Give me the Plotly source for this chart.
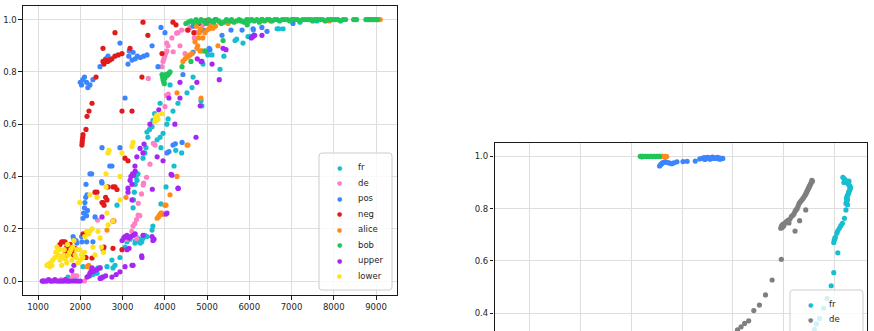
import plotly.graph_objects as go

W, H = 874, 331

# ---------------- left panel data ----------------
fr_x = [1710, 1850, 2065, 2230, 2300, 2350, 2400, 2420, 2467, 2515, 2633, 2750, 2775, 2822, 2870, 2940,
        3060, 3107, 3180, 3250, 3260, 3280, 3295, 3300, 3310, 3320, 3343, 3350, 3367, 3380, 3400, 3420,
        3440, 3455, 3460, 3485, 3490, 3530, 3530, 3555, 3580, 3580, 3600, 3640, 3700, 3700, 3720, 3720,
        3760, 3820, 3890, 3890, 3910, 3910, 3960, 4030, 4050, 4080, 4125, 4195, 4220, 4260, 4313, 4400,
        4527, 4645, 4670, 4858, 4880, 4905, 5000, 5020, 5118, 5308, 5400, 5663, 5700, 5852, 5970, 6020,
        6100, 6660, 6700, 6800, 7200, 7600]
fr_y = [0.015, 0.010, 0.055, 0.020, 0.025, 0.030, 0.030, 0.050, 0.050, 0.015, 0.055, 0.080, 0.050, 0.060, 0.290, 0.090,
        0.130, 0.150, 0.160, 0.280, 0.310, 0.340, 0.145, 0.370, 0.155, 0.400, 0.385, 0.165, 0.410, 0.160, 0.150, 0.145,
        0.150, 0.150, 0.160, 0.470, 0.165, 0.490, 0.175, 0.510, 0.170, 0.570, 0.550, 0.580, 0.195, 0.590, 0.210, 0.615,
        0.640, 0.540, 0.680, 0.550, 0.295, 0.510, 0.565, 0.360, 0.600, 0.620, 0.750, 0.650, 0.440, 0.500, 0.680, 0.490,
        0.720, 0.740, 0.780, 0.690, 0.670, 0.830, 0.875, 0.865, 0.865, 0.810, 0.860, 0.920, 0.925, 0.910, 0.935, 0.935,
        0.960, 0.965, 0.965, 0.965, 0.990, 0.995]

de_x = [1120, 1200, 1300, 1400, 1500, 1550, 1600, 1650, 1700, 1760, 1800, 1836, 1920, 2100, 2410, 2500,
        2800, 3100, 3220, 3250, 3290, 3330, 3335, 3370, 3375, 3390, 3410, 3450, 3490, 3500, 3570, 3611,
        3650, 3730, 3770, 4006, 4046, 4085, 3935, 3960, 3980, 4000, 4020, 4046, 4050, 4077, 4170, 4200,
        4280, 4313, 4360, 4400, 4480, 4527, 4600, 4700, 4760, 4834, 4900, 5000, 5100]
de_y = [0.000, 0.000, 0.000, 0.000, 0.000, 0.005, 0.000, 0.000, 0.000, 0.000, 0.010, 0.023, 0.020, 0.000, 0.233, 0.010,
        0.230, 0.160, 0.190, 0.210, 0.220, 0.235, 0.163, 0.252, 0.297, 0.250, 0.250, 0.333, 0.367, 0.375, 0.397, 0.775,
        0.447, 0.527, 0.520, 0.667, 0.710, 0.715, 0.820, 0.840, 0.850, 0.860, 0.870, 0.910, 0.880, 0.900, 0.930, 0.877,
        0.948, 0.950, 0.900, 0.960, 0.870, 0.960, 0.970, 0.930, 0.950, 0.960, 0.980, 0.985, 0.990]

pos_x = [1830, 1850, 1900, 1920, 2034, 2040, 2065, 2080, 2100, 2110, 2130, 2136, 2150, 2152, 2160, 2170,
         2230, 2270, 2300, 2350, 2507, 2515, 2515, 2540, 2700, 2750, 2940, 3060, 2000, 2030, 2060, 2100,
         2150, 2180, 2230, 2300, 2467, 2600, 2657, 2940, 3130, 3150, 3160, 3225, 3250, 3300, 3350, 3420,
         3500, 3580, 3700, 3840, 3910, 4005, 4053, 4100, 4195, 4250, 4410, 4430, 4670, 4670, 4800, 4905,
         5050, 5070, 5355, 5500, 5568, 5830, 6090, 6300, 6420, 7035]
pos_y = [0.170, 0.160, 0.155, 0.145, 0.170, 0.150, 0.240, 0.260, 0.280, 0.300, 0.320, 0.370, 0.250, 0.150, 0.330, 0.270,
         0.410, 0.410, 0.150, 0.245, 0.380, 0.375, 0.510, 0.120, 0.440, 0.440, 0.510, 0.700, 0.760, 0.750, 0.770, 0.780,
         0.760, 0.740, 0.750, 0.770, 0.820, 0.850, 0.860, 0.910, 0.830, 0.860, 0.880, 0.845, 0.875, 0.850, 0.860, 0.855,
         0.860, 0.865, 0.900, 0.820, 0.970, 0.950, 0.490, 0.495, 0.520, 0.525, 0.530, 0.790, 0.875, 0.975, 0.990, 0.960,
         0.890, 0.885, 0.940, 0.990, 0.960, 0.960, 0.965, 0.970, 0.955, 0.985]

neg_x = [1520, 1560, 1600, 1640, 1650, 1680, 1700, 1720, 1760, 1800, 1840, 1875, 2065, 2136, 2278, 2349,
         2396, 2515, 2538, 2562, 2562, 2600, 2633, 2657, 2775, 2775, 2775, 2822, 2870, 2988, 3060, 3130,
         2040, 2045, 2050, 2060, 2065, 2136, 2160, 2207, 2278, 2373, 2538, 2538, 2560, 2600, 2650, 2700,
         2750, 2820, 2900, 2988, 2822, 2988, 3178, 3225, 3460, 3485, 3600, 3935, 4195, 4266, 4550, 4690,
         4800, 4976, 5000, 5200, 5600, 6300, 7040]
neg_y = [0.140, 0.150, 0.150, 0.150, 0.110, 0.130, 0.100, 0.120, 0.140, 0.110, 0.100, 0.125, 0.180, 0.090, 0.088, 0.340,
         0.340, 0.300, 0.300, 0.290, 0.130, 0.320, 0.310, 0.360, 0.360, 0.230, 0.125, 0.360, 0.350, 0.120, 0.470, 0.460,
         0.520, 0.530, 0.540, 0.550, 0.560, 0.580, 0.630, 0.650, 0.680, 0.780, 0.890, 0.840, 0.830, 0.845, 0.840, 0.845,
         0.850, 0.860, 0.865, 0.870, 0.950, 0.650, 0.890, 0.650, 0.780, 0.990, 0.940, 0.870, 0.990, 0.980, 0.960, 0.950,
         0.985, 0.995, 0.995, 1.000, 0.995, 1.000, 1.000]

alice_x = [2160, 2200, 2633, 3083, 3820, 3850, 3870, 3890, 3910, 3930, 3960, 4005, 4030, 4125, 4290, 4527,
           4550, 4290, 4858, 4430, 4480, 4520, 4560, 4600, 4650, 4716, 4760, 4834, 4880, 5142, 5260, 4780,
           4800, 4820, 4850, 4900, 4950, 5000, 5050, 4750, 5080, 5200, 5300, 5500, 5800, 6000, 6500, 7000,
           7500, 7900, 8500, 8850, 9050, 9100]
alice_y = [0.055, 0.060, 0.195, 0.320, 0.240, 0.245, 0.250, 0.255, 0.260, 0.260, 0.255, 0.290, 0.290, 0.330, 0.400, 0.520,
           0.520, 0.720, 0.700, 0.840, 0.850, 0.855, 0.860, 0.865, 0.870, 0.915, 0.890, 0.880, 0.880, 0.967, 0.900, 0.900,
           0.930, 0.950, 0.965, 0.930, 0.950, 0.960, 0.965, 0.975, 0.975, 0.975, 0.990, 0.985, 0.995, 1.000, 0.995, 1.000,
           1.000, 0.995, 1.000, 1.000, 1.000, 1.000]

bob_x = [3935, 3950, 3960, 3980, 3990, 4000, 4020, 4050, 4080, 4100, 4125, 4408, 4620, 4950, 5380, 5950,
         4500, 4560, 4620, 4680, 4740, 4800, 4860, 4920, 4980, 5040, 5100, 5160, 5220, 5280, 5340, 5400,
         5460, 5520, 5580, 5640, 5700, 5760, 5820, 5880, 5940, 6000, 6060, 6120, 6180, 6240, 6300, 6360,
         6420, 6480, 6540, 6600, 6660, 6720, 6780, 6840, 6900, 6960, 7020, 7080, 7140, 7200, 7260, 7320,
         7380, 7440, 7500, 7560, 7620, 7680, 7740, 7800, 7860, 7920, 7980, 8040, 8100, 8160, 8220, 8280,
         8470, 8540, 8760, 8800, 8840, 8880, 8920, 8960, 9000, 9040]
bob_y = [0.790, 0.780, 0.770, 0.760, 0.755, 0.775, 0.790, 0.785, 0.790, 0.795, 0.800, 0.820, 0.840, 0.880, 0.920, 0.980,
         0.985, 0.990, 0.995, 0.990, 1.000, 0.990, 1.000, 0.995, 0.985, 1.000, 0.995, 0.990, 1.000, 0.995, 0.985, 0.990,
         1.000, 0.995, 1.000, 0.990, 0.995, 1.000, 0.995, 0.990, 1.000, 0.995, 1.000, 0.995, 1.000, 0.990, 1.000, 0.995,
         1.000, 1.000, 0.995, 1.000, 1.000, 0.995, 1.000, 1.000, 1.000, 0.995, 1.000, 1.000, 1.000, 0.995, 1.000, 1.000,
         1.000, 1.000, 0.995, 1.000, 1.000, 1.000, 1.000, 0.995, 1.000, 1.000, 1.000, 1.000, 1.000, 0.995, 1.000, 1.000,
         1.000, 1.000, 1.000, 1.000, 1.000, 1.000, 1.000, 1.000, 1.000, 1.000]

upper_x = [1100, 1120, 1150, 1200, 1250, 1300, 1350, 1400, 1450, 1500, 1550, 1600, 1650, 1700, 1750, 1800,
           1830, 1850, 1900, 1950, 2000, 2160, 2200, 2230, 2260, 2280, 2300, 2350, 2400, 2470, 2470, 2540,
           2600, 2750, 2850, 2940, 3060, 3225, 3250, 3454, 3460, 3107, 2990, 3030, 3060, 3107, 3150, 3200,
           3250, 3300, 3155, 2515, 3180, 3200, 3225, 3240, 3260, 3300, 3295, 3130, 3130, 3225, 3340, 3485,
           3485, 3700, 3720, 3745, 3820, 3960, 4030, 4053, 4150, 4170, 4313, 4320, 3705, 3415, 3510, 3650,
           3860, 4100, 4240, 4360, 4360, 4740, 4760, 4770, 4840, 4860, 4880, 5120, 5290, 5380, 5450, 6050,
           6070, 6090, 6110, 6130, 6300]
upper_y = [0.000, 0.000, 0.000, 0.000, 0.005, 0.000, 0.000, 0.005, 0.000, 0.000, 0.000, 0.000, 0.005, 0.000, 0.000, 0.040,
           0.000, 0.060, 0.000, 0.000, 0.000, 0.015, 0.020, 0.030, 0.040, 0.050, 0.035, 0.040, 0.045, 0.050, 0.010, 0.015,
           0.020, 0.015, 0.025, 0.035, 0.055, 0.060, 0.060, 0.096, 0.090, 0.120, 0.155, 0.165, 0.170, 0.175, 0.165, 0.170,
           0.175, 0.180, 0.125, 0.245, 0.385, 0.400, 0.370, 0.410, 0.405, 0.420, 0.440, 0.340, 0.355, 0.310, 0.475, 0.490,
           0.175, 0.170, 0.155, 0.160, 0.475, 0.460, 0.256, 0.260, 0.408, 0.405, 0.355, 0.354, 0.351, 0.507, 0.524, 0.600,
           0.655, 0.700, 0.600, 0.700, 0.760, 0.550, 0.760, 0.850, 0.670, 0.840, 0.840, 0.830, 0.770, 0.890, 0.885, 0.930,
           0.935, 0.935, 0.940, 0.940, 0.940]

lower_x = [1210, 1250, 1280, 1300, 1330, 1350, 1400, 1420, 1450, 1480, 1500, 1520, 1550, 1560, 1600, 1620,
           1650, 1680, 1700, 1720, 1750, 1780, 1800, 1820, 1850, 1880, 1900, 1920, 1950, 1990, 2000, 2030,
           2060, 2100, 2110, 2150, 2200, 2230, 2280, 2300, 2350, 2420, 2470, 2500, 2550, 2660, 2633, 2775,
           1990, 2230, 2396, 2610, 2610, 2657, 2680, 2940, 2940, 2988, 3225, 3250, 3770, 3780, 3790, 3800,
           3810, 3820, 3840, 3935]
lower_y = [0.060, 0.065, 0.055, 0.070, 0.060, 0.080, 0.090, 0.110, 0.130, 0.100, 0.120, 0.080, 0.090, 0.060, 0.100, 0.120,
           0.085, 0.070, 0.140, 0.100, 0.110, 0.120, 0.080, 0.130, 0.155, 0.100, 0.090, 0.120, 0.070, 0.120, 0.080, 0.100,
           0.090, 0.110, 0.170, 0.190, 0.180, 0.190, 0.200, 0.130, 0.100, 0.190, 0.165, 0.130, 0.110, 0.215, 0.260, 0.230,
           0.300, 0.330, 0.320, 0.360, 0.410, 0.490, 0.500, 0.310, 0.400, 0.490, 0.515, 0.530, 0.610, 0.620, 0.625, 0.630,
           0.615, 0.635, 0.620, 0.640]

left_names = ["fr", "de", "pos", "neg", "alice", "bob", "upper", "lower"]
left_colors = ["#17becf", "#ff7fc4", "#3d85ff", "#e01b1b", "#ff8c1a", "#1fc55a", "#a726f5", "#ffe21a"]
left_data = [(fr_x, fr_y), (de_x, de_y), (pos_x, pos_y), (neg_x, neg_y),
             (alice_x, alice_y), (bob_x, bob_y), (upper_x, upper_y), (lower_x, lower_y)]

# ---------------- right panel data ----------------
rfr_x = [6.16, 6.18, 6.20, 6.22, 6.24, 6.26, 6.28, 6.30, 6.31, 6.30, 6.29, 6.28, 6.27, 6.26, 6.25, 6.24,
         6.23, 6.25, 6.24, 6.23, 6.22, 6.20, 6.18, 6.28, 6.25, 6.22, 6.19, 6.15, 6.12, 6.09, 6.06, 6.04,
         6.01, 5.99, 5.98, 6.00, 6.06, 5.98, 5.93, 5.85, 5.78, 5.70, 5.64, 5.60]
rfr_y = [0.920, 0.915, 0.910, 0.905, 0.900, 0.895, 0.890, 0.885, 0.880, 0.875, 0.870, 0.865, 0.860, 0.855, 0.850, 0.845,
         0.840, 0.835, 0.830, 0.825, 0.820, 0.910, 0.900, 0.905, 0.815, 0.795, 0.763, 0.744, 0.735, 0.725, 0.715, 0.706,
         0.690, 0.680, 0.670, 0.685, 0.631, 0.555, 0.505, 0.457, 0.419, 0.380, 0.359, 0.338]

rde_x = [5.56, 5.55, 5.54, 5.53, 5.52, 5.51, 5.50, 5.49, 5.48, 5.47, 5.46, 5.45, 5.44, 5.43, 5.42, 5.40,
         5.38, 5.36, 5.34, 5.32, 5.30, 5.28, 5.26, 5.24, 5.22, 5.20, 5.18, 5.15, 5.12, 5.08, 5.05, 5.02,
         4.98, 4.96, 4.95, 4.94, 4.97, 5.00, 5.10, 5.43, 5.31, 5.22, 4.95, 4.77, 4.64, 4.52, 4.41, 4.31,
         4.23, 4.16, 4.09]
rde_y = [0.905, 0.908, 0.900, 0.896, 0.892, 0.888, 0.884, 0.880, 0.876, 0.872, 0.868, 0.864, 0.860, 0.856, 0.852, 0.846,
         0.840, 0.835, 0.830, 0.825, 0.820, 0.810, 0.800, 0.795, 0.790, 0.780, 0.775, 0.770, 0.760, 0.755, 0.750, 0.745,
         0.740, 0.735, 0.730, 0.725, 0.728, 0.735, 0.745, 0.795, 0.754, 0.714, 0.606, 0.527, 0.470, 0.431, 0.410, 0.371,
         0.361, 0.348, 0.336]

rpos_x = [2.56, 2.58, 2.60, 2.62, 2.64, 2.66, 2.68, 2.72, 2.76, 2.80, 2.84, 2.90, 3.02, 3.10, 3.26, 3.35,
          3.41, 3.44, 3.47, 3.50, 3.53, 3.56, 3.59, 3.62, 3.65, 3.68, 3.71, 3.74, 3.77, 3.80, 3.45, 3.55,
          3.60, 3.70, 3.75]
rpos_y = [0.963, 0.968, 0.972, 0.975, 0.977, 0.978, 0.979, 0.976, 0.974, 0.972, 0.975, 0.979, 0.980, 0.981, 0.982, 0.990,
          0.993, 0.995, 0.992, 0.996, 0.994, 0.993, 0.995, 0.992, 0.994, 0.993, 0.991, 0.993, 0.992, 0.992, 0.988, 0.989,
          0.997, 0.996, 0.989]

ralice_x = [2.19, 2.21, 2.23, 2.56, 2.58, 2.60, 2.62, 2.64, 2.66, 2.68, 2.70]
ralice_y = [1.000, 0.998, 1.000, 1.000, 0.999, 1.000, 1.000, 0.999, 1.000, 1.000, 0.999]

rbob_x = [2.18, 2.20, 2.22, 2.24, 2.26, 2.28, 2.30, 2.32, 2.34, 2.36, 2.38, 2.40, 2.42, 2.44, 2.46, 2.48,
          2.50, 2.52, 2.54, 2.56]
rbob_y = [1.000, 0.999, 1.000, 0.999, 1.000, 1.000, 0.999, 1.000, 1.000, 0.999, 1.000, 1.000, 0.999, 1.000, 1.000, 0.999,
          1.000, 1.000, 0.999, 1.000]

right_names = ["fr", "de", "pos", "alice", "bob"]
right_colors = ["#17becf", "#7f7f7f", "#3d85ff", "#ff8c1a", "#1fc55a"]
right_data = [(rfr_x, rfr_y), (rde_x, rde_y), (rpos_x, rpos_y), (ralice_x, ralice_y), (rbob_x, rbob_y)]
right_legend_visible = 2  # only the first two legend rows fit inside the window

# ---------------- figure ----------------
fig = go.Figure()
for (xs, ys), c, n in zip(left_data, left_colors, left_names):
    fig.add_trace(go.Scatter(x=xs, y=ys, mode="markers", name=n, showlegend=False,
                             marker=dict(size=5.2, color=c, line=dict(width=0)),
                             xaxis="x", yaxis="y"))
for (xs, ys), c, n in zip(right_data, right_colors, right_names):
    fig.add_trace(go.Scatter(x=xs, y=ys, mode="markers", name=n, showlegend=False,
                             marker=dict(size=5.2, color=c, line=dict(width=0)),
                             xaxis="x2", yaxis="y2"))

FONT = dict(family="DejaVu Sans", size=8.5, color="#262626")
axcommon = dict(showgrid=True, gridcolor="#dedede", gridwidth=1, zeroline=False,
                showline=True, mirror=True, linecolor="#1a1a1a", linewidth=1.2,
                tickwidth=1, tickcolor="#1a1a1a", tickfont=FONT)

def px(x):
    return x / W

def py(y):
    return 1 - y / H

fig.update_layout(
    width=W, height=H, margin=dict(l=0, r=0, t=0, b=0),
    paper_bgcolor="white", plot_bgcolor="white", showlegend=False,
    xaxis=dict(domain=[px(23), px(397)], range=[645, 9497], ticks="outside", ticklen=3.5,
               tickvals=[1000, 2000, 3000, 4000, 5000, 6000, 7000, 8000, 9000], anchor="y", **axcommon),
    yaxis=dict(domain=[py(295), py(6)], range=[-0.0535, 1.052], ticks="outside", ticklen=3.5,
               tickvals=[0.0, 0.2, 0.4, 0.6, 0.8, 1.0], tickformat=".1f", anchor="x", **axcommon),
    xaxis2=dict(domain=[px(494.5), px(867)], range=[-0.682, 6.633], dtick=1, tick0=0, ticks="",
                showticklabels=False, anchor="y2", **axcommon),
    yaxis2=dict(domain=[0, py(143)], range=[0.332, 1.051], ticks="outside", ticklen=3.5,
                tickvals=[0.4, 0.6, 0.8, 1.0], tickformat=".1f", anchor="x2", **axcommon),
)

def rounded_rect(x0, y0, x1, y1, r=3):
    X0, X1 = px(x0), px(x1)
    Y0, Y1 = py(y0), py(y1)
    rx, ry = r / W, r / H
    return (f"M{X0+rx},{Y0} L{X1-rx},{Y0} Q{X1},{Y0} {X1},{Y0-ry} L{X1},{Y1+ry} Q{X1},{Y1} {X1-rx},{Y1} "
            f"L{X0+rx},{Y1} Q{X0},{Y1} {X0},{Y1+ry} L{X0},{Y0-ry} Q{X0},{Y0} {X0+rx},{Y0} Z")

shapes = [
    dict(type="path", path=rounded_rect(319, 153, 392, 290), xref="paper", yref="paper",
         fillcolor="rgba(255,255,255,0.8)", line=dict(color="#cccccc", width=1), layer="above"),
    dict(type="path", path=rounded_rect(790, 290, 863, 420), xref="paper", yref="paper",
         fillcolor="rgba(255,255,255,0.8)", line=dict(color="#cccccc", width=1), layer="above"),
]
anns = []
for i, (n, c) in enumerate(zip(left_names, left_colors)):
    yy = 167.3 + i * 15.5
    anns.append(dict(x=px(339), y=py(yy), xref="paper", yref="paper", text="●", showarrow=False,
                     font=dict(family="DejaVu Sans", size=6, color=c), xanchor="center", yanchor="middle"))
    anns.append(dict(x=px(356), y=py(yy), xref="paper", yref="paper", text=n, showarrow=False,
                     font=FONT, xanchor="left", yanchor="middle"))
for i, (n, c) in enumerate(zip(right_names[:right_legend_visible], right_colors[:right_legend_visible])):
    yy = 304 + i * 15.3
    anns.append(dict(x=px(810), y=py(yy), xref="paper", yref="paper", text="●", showarrow=False,
                     font=dict(family="DejaVu Sans", size=6, color=c), xanchor="center", yanchor="middle"))
    anns.append(dict(x=px(826.7), y=py(yy), xref="paper", yref="paper", text=n, showarrow=False,
                     font=FONT, xanchor="left", yanchor="middle"))
fig.update_layout(shapes=shapes, annotations=anns)

fig.write_html("out.html")
